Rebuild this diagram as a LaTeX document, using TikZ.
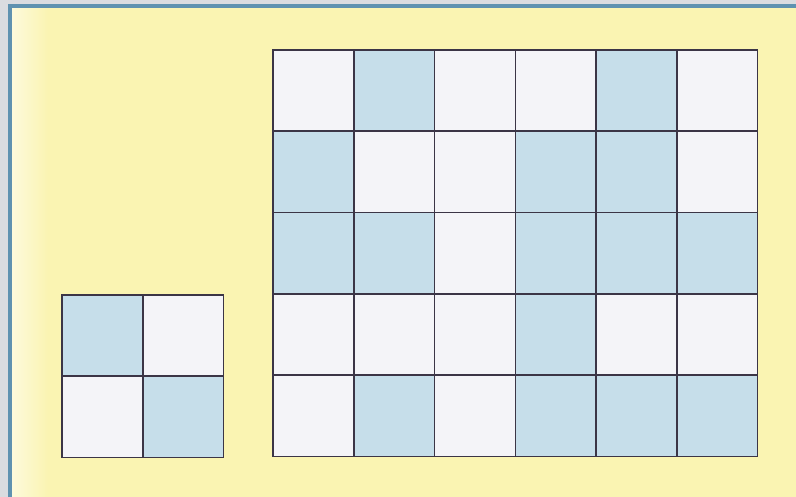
\documentclass[tikz,border=0pt]{standalone}
\definecolor{pageyellow}{HTML}{FAF4B2}
\definecolor{cellblue}{HTML}{C6DEEA}
\definecolor{cellwhite}{HTML}{F4F4F8}
\definecolor{rimgray}{HTML}{DADCE0}
\definecolor{rimblue}{HTML}{5F92B0}
\definecolor{gridline}{HTML}{3B3546}
\begin{document}
\begin{tikzpicture}[x=0.02cm, y=-0.02cm, cell/.style={draw=gridline, line width=.9pt}]
  \useasboundingbox (0,0) rectangle (796,497);
  % page and its rim
  \fill[rimgray] (0,0) rectangle (796,497);
  \fill[pageyellow] (11,7) rectangle (796,497);
  \shade[left color=white!55!pageyellow, right color=pageyellow] (11,7) rectangle (48,497);
  \draw[rimblue, line width=1.8pt] (10,497) -- (10,6) -- (796,6);
  % big grid, 6 x 5
  \begin{scope}[shift={(273,50)}, x=1.616cm, y=-1.626cm]
    \fill[cellwhite] (0,0) rectangle (6,5);
    \foreach \c/\r in {1/0,4/0, 0/1,3/1,4/1, 0/2,1/2,3/2,4/2,5/2, 3/3, 1/4,3/4,4/4,5/4}
      \fill[cellblue] (\c,\r) rectangle ++(1,1);
    \foreach \c in {0,...,5}
      \foreach \r in {0,...,4}
        \draw[cell] (\c,\r) rectangle ++(1,1);
  \end{scope}
  % small grid, 2 x 2
  \begin{scope}[shift={(62,295)}, x=1.616cm, y=-1.626cm]
    \fill[cellwhite] (0,0) rectangle (2,2);
    \foreach \c/\r in {0/0,1/1}
      \fill[cellblue] (\c,\r) rectangle ++(1,1);
    \foreach \c in {0,1}
      \foreach \r in {0,1}
        \draw[cell] (\c,\r) rectangle ++(1,1);
  \end{scope}
\end{tikzpicture}
\end{document}
